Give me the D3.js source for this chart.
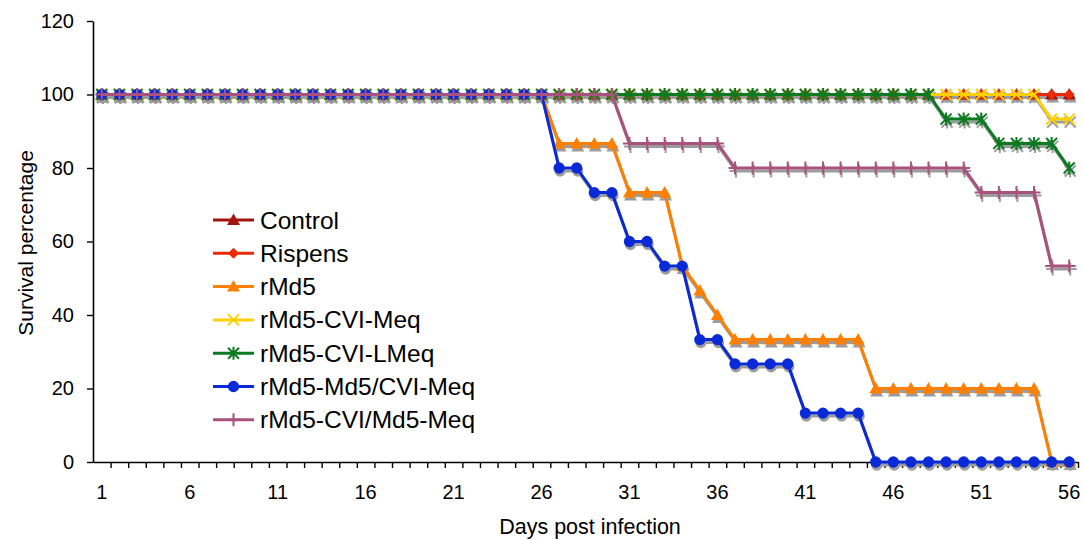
<!DOCTYPE html>
<html lang="en">
<head>
  <meta charset="UTF-8">
  <title>Survival percentage</title>
  <script src="https://d3js.org/d3.v7.min.js"></script>
  <style>
    body { margin: 0; background: #fff; }
    text { font-family: "Liberation Sans", Arial, sans-serif; fill: #000; }
  </style>
</head>
<body>
<script>
  var width = 1084;
  var height = 540;

  // data (survival %, days 1..56)
  var days = [1, 2, 3, 4, 5, 6, 7, 8, 9, 10, 11, 12, 13, 14, 15, 16, 17, 18, 19, 20,
              21, 22, 23, 24, 25, 26, 27, 28, 29, 30, 31, 32, 33, 34, 35, 36, 37, 38, 39, 40,
              41, 42, 43, 44, 45, 46, 47, 48, 49, 50, 51, 52, 53, 54, 55, 56];
  var dayLabels = [1, 6, 11, 16, 21, 26, 31, 36, 41, 46, 51, 56];
  var yTicks = [0, 20, 40, 60, 80, 100, 120];

  var control = [100, 100, 100, 100, 100, 100, 100, 100, 100, 100, 100, 100, 100, 100, 100, 100, 100, 100, 100, 100,
                 100, 100, 100, 100, 100, 100, 100, 100, 100, 100, 100, 100, 100, 100, 100, 100, 100, 100, 100, 100,
                 100, 100, 100, 100, 100, 100, 100, 100, 100, 100, 100, 100, 100, 100, 100, 100];
  var rispens = [100, 100, 100, 100, 100, 100, 100, 100, 100, 100, 100, 100, 100, 100, 100, 100, 100, 100, 100, 100,
                 100, 100, 100, 100, 100, 100, 100, 100, 100, 100, 100, 100, 100, 100, 100, 100, 100, 100, 100, 100,
                 100, 100, 100, 100, 100, 100, 100, 100, 100, 100, 100, 100, 100, 100, 100, 100];
  var rMd5 = [100, 100, 100, 100, 100, 100, 100, 100, 100, 100, 100, 100, 100, 100, 100, 100, 100, 100, 100, 100,
              100, 100, 100, 100, 100, 100, 86.7, 86.7, 86.7, 86.7, 73.3, 73.3, 73.3, 53.3, 46.7, 40, 33.3, 33.3, 33.3, 33.3,
              33.3, 33.3, 33.3, 33.3, 20, 20, 20, 20, 20, 20, 20, 20, 20, 20, 0, 0];
  var cviMeq = [100, 100, 100, 100, 100, 100, 100, 100, 100, 100, 100, 100, 100, 100, 100, 100, 100, 100, 100, 100,
                100, 100, 100, 100, 100, 100, 100, 100, 100, 100, 100, 100, 100, 100, 100, 100, 100, 100, 100, 100,
                100, 100, 100, 100, 100, 100, 100, 100, 100, 100, 100, 100, 100, 100, 93.3, 93.3];
  var cviLMeq = [100, 100, 100, 100, 100, 100, 100, 100, 100, 100, 100, 100, 100, 100, 100, 100, 100, 100, 100, 100,
                 100, 100, 100, 100, 100, 100, 100, 100, 100, 100, 100, 100, 100, 100, 100, 100, 100, 100, 100, 100,
                 100, 100, 100, 100, 100, 100, 100, 100, 93.3, 93.3, 93.3, 86.7, 86.7, 86.7, 86.7, 80];
  var md5CviMeq = [100, 100, 100, 100, 100, 100, 100, 100, 100, 100, 100, 100, 100, 100, 100, 100, 100, 100, 100, 100,
                   100, 100, 100, 100, 100, 100, 80, 80, 73.3, 73.3, 60, 60, 53.3, 53.3, 33.3, 33.3, 26.7, 26.7, 26.7, 26.7,
                   13.3, 13.3, 13.3, 13.3, 0, 0, 0, 0, 0, 0, 0, 0, 0, 0, 0, 0];
  var cviMd5Meq = [100, 100, 100, 100, 100, 100, 100, 100, 100, 100, 100, 100, 100, 100, 100, 100, 100, 100, 100, 100,
                   100, 100, 100, 100, 100, 100, 100, 100, 100, 100, 86.7, 86.7, 86.7, 86.7, 86.7, 86.7, 80, 80, 80, 80,
                   80, 80, 80, 80, 80, 80, 80, 80, 80, 80, 73.3, 73.3, 73.3, 73.3, 53.3, 53.3];

  var names = ["Control", "Rispens", "rMd5", "rMd5-CVI-Meq", "rMd5-CVI-LMeq", "rMd5-Md5/CVI-Meq", "rMd5-CVI/Md5-Meq"];
  var colors = ["#a3140f", "#ea2a06", "#ff8000", "#ffd000", "#0b7a20", "#0a2ad8", "#a8527e"];
  var shapes = ["triangle", "diamond", "triangle", "times", "asterisk", "circle", "plus"];
  var values = [control, rispens, rMd5, cviMeq, cviLMeq, md5CviMeq, cviMd5Meq];

  var series = names.map(function(n, i) {
    return { name: n, color: colors[i], shape: shapes[i], values: values[i] };
  });

  var plotLeft = 93, plotRight = 1078, plotTop = 21, plotBottom = 462;

  var x = d3.scaleLinear().domain([0.5, 56.5]).range([plotLeft, plotRight]);
  var y = d3.scaleLinear().domain([0, 120]).range([plotBottom, plotTop]);

  var svg = d3.select("body").append("svg")
    .attr("width", width)
    .attr("height", height);

  // marker paths
  function marker(shape) {
    if (shape == "triangle") return "M0,-6.5L6.5,5L-6.5,5Z";
    if (shape == "diamond") return "M0,-5.5L5.5,0L0,5.5L-5.5,0Z";
    if (shape == "circle") return d3.symbol(d3.symbolCircle, 100)();
    if (shape == "times") return "M-5.5,-5.5L5.5,5.5M5.5,-5.5L-5.5,5.5";
    if (shape == "asterisk") return "M-5.5,-5.5L5.5,5.5M5.5,-5.5L-5.5,5.5M0,-6.5L0,6.5";
    if (shape == "plus") return "M0,-6.5L0,6.5M-6.5,0L6.5,0";
  }
  function filled(shape) {
    return shape == "triangle" || shape == "diamond" || shape == "circle";
  }

  var line = d3.line()
    .x(function(d, i) { return x(days[i]); })
    .y(function(d) { return y(d); });

  // axes
  var yAxis = svg.append("g")
    .attr("transform", "translate(" + plotLeft + ",0)")
    .call(d3.axisLeft(y).tickValues(yTicks).tickSize(6).tickSizeOuter(0).tickPadding(13));
  yAxis.selectAll("text").style("font-size", "20px").attr("font-family", null);
  yAxis.select(".domain").attr("stroke", "#000").attr("stroke-width", 1.6);
  yAxis.selectAll(".tick line").attr("stroke-width", 1.4);

  var bounds = days.map(function(d) { return d + 0.5; });
  var xAxis = svg.append("g")
    .attr("transform", "translate(0," + plotBottom + ")")
    .call(d3.axisBottom(x).tickValues(bounds).tickSize(6).tickSizeOuter(0).tickFormat(""));
  xAxis.select(".domain").attr("stroke", "#000").attr("stroke-width", 1.6);
  xAxis.selectAll(".tick line").attr("stroke-width", 1.4);

  svg.append("g").selectAll("text")
    .data(dayLabels)
    .enter().append("text")
    .attr("x", function(d) { return x(d); })
    .attr("y", plotBottom + 37)
    .attr("text-anchor", "middle")
    .style("font-size", "20px")
    .text(function(d) { return d; });

  svg.append("text")
    .attr("x", 590).attr("y", 534)
    .attr("text-anchor", "middle")
    .style("font-size", "21.5px")
    .text("Days post infection");

  svg.append("text")
    .attr("transform", "translate(33,243) rotate(-90)")
    .attr("text-anchor", "middle")
    .style("font-size", "21px")
    .text("Survival percentage");

  // shadows first
  var shadow = svg.append("g").attr("transform", "translate(1,3)");
  series.forEach(function(s) {
    shadow.append("path")
      .attr("d", line(s.values))
      .attr("fill", "none")
      .attr("stroke", "#9c9c9c")
      .attr("stroke-width", 3);
    shadow.selectAll(null)
      .data(s.values)
      .enter().append("path")
      .attr("transform", function(d, i) { return "translate(" + x(days[i]) + "," + y(d) + ")"; })
      .attr("d", marker(s.shape))
      .attr("fill", filled(s.shape) ? "#9c9c9c" : "none")
      .attr("stroke", "#9c9c9c")
      .attr("stroke-width", filled(s.shape) ? 0 : 2);
  });

  var plot = svg.append("g");
  series.forEach(function(s) {
    var g = plot.append("g");
    g.append("path")
      .attr("d", line(s.values))
      .attr("fill", "none")
      .attr("stroke", s.color)
      .attr("stroke-width", 3)
      .attr("stroke-linejoin", "round");
    g.selectAll(null)
      .data(s.values)
      .enter().append("path")
      .attr("transform", function(d, i) { return "translate(" + x(days[i]) + "," + y(d) + ")"; })
      .attr("d", marker(s.shape))
      .attr("fill", filled(s.shape) ? s.color : "none")
      .attr("stroke", s.color)
      .attr("stroke-width", filled(s.shape) ? 0 : 2);
  });

  // legend
  var legend = svg.append("g").attr("transform", "translate(213,220)");
  var row = legend.selectAll("g")
    .data(series)
    .enter().append("g")
    .attr("transform", function(d, i) { return "translate(0," + i * 33.3 + ")"; });
  row.append("line")
    .attr("x1", 0).attr("x2", 41)
    .attr("stroke", function(d) { return d.color; })
    .attr("stroke-width", 3);
  row.append("path")
    .attr("transform", "translate(20.5,0)")
    .attr("d", function(d) { return marker(d.shape); })
    .attr("fill", function(d) { return filled(d.shape) ? d.color : "none"; })
    .attr("stroke", function(d) { return d.color; })
    .attr("stroke-width", function(d) { return filled(d.shape) ? 0 : 2; });
  row.append("text")
    .attr("x", 47)
    .attr("dy", "0.35em")
    .style("font-size", "24.5px")
    .text(function(d) { return d.name; });
</script>
</body>
</html>
